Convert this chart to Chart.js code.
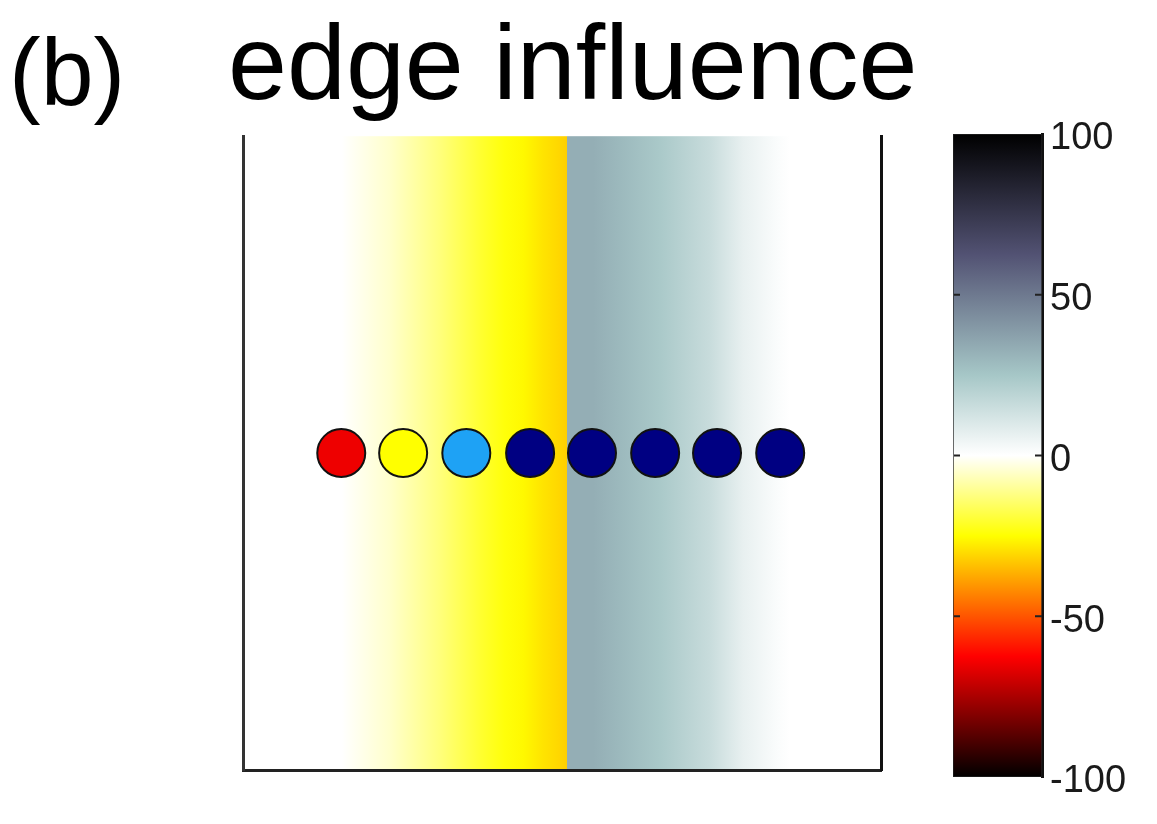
<!DOCTYPE html>
<html lang="en">
<head>
<meta charset="UTF-8">
<title>edge influence</title>
<script src="https://cdn.jsdelivr.net/npm/chart.js"></script>
<style>
  body { margin: 0; background: #fff; }
  #wrap { position: relative; width: 1157px; height: 824px; }
  #main { position: absolute; left: 0; top: 0; }
  #cbar { position: absolute; left: 900px; top: 0; }
  #panel { position: absolute; left: 9px; top: 25px; font: 95px/95px 'Liberation Sans', Arial, sans-serif; color: #000; }
</style>
</head>
<body>
<div id="wrap">
  <canvas id="main" width="1157" height="824"></canvas>
  <canvas id="cbar" width="257" height="824"></canvas>
  <div id="panel">(b)</div>
</div>
<script>
// sensor positions along the strip and their marker colours
const sensorX = [1.54, 2.51, 3.5, 4.5, 5.47, 6.46, 7.43, 8.42];
const sensorY = [0.5, 0.5, 0.5, 0.5, 0.5, 0.5, 0.5, 0.5];
const sensorColors = ['#ee0000', '#ffff00', '#1ea2f5', '#000082', '#000082', '#000082', '#000082', '#000082'];

// edge influence profile across the plate
const fieldX = [0, 1.55, 2.3, 3.1, 3.7, 4.1, 4.4, 4.7, 4.97, 5.08, 5.08, 5.49, 5.91, 6.54, 7.32, 7.84, 8.37, 8.57, 10];
const fieldV = [0, 0, -5, -13, -20, -24, -26, -29, -31, -32, 33, 33, 29.5, 24, 15.5, 6.5, 1.5, 0, 0];

// colour scale (hot below zero, bone above)
const cmapVals = [-100, -62.5, -25, 0, 25, 62.5, 100];
const cmapColors = ['#000000', '#ff0000', '#ffff00', '#ffffff', '#a6c7c7', '#525273', '#000000'];
const cbarTicks = [-100, -50, 0, 50, 100];

function hexRgb(h) {
  return [1, 3, 5].map(i => parseInt(h.slice(i, i + 2), 16));
}

function valueToColor(v) {
  for (let i = 0; i < cmapVals.length - 1; i++) {
    if (v <= cmapVals[i + 1]) {
      const t = Math.max(0, (v - cmapVals[i]) / (cmapVals[i + 1] - cmapVals[i]));
      const a = hexRgb(cmapColors[i]), b = hexRgb(cmapColors[i + 1]);
      const c = a.map((ch, k) => Math.round(ch + (b[k] - ch) * t));
      return 'rgb(' + c.join(',') + ')';
    }
  }
  return cmapColors[cmapColors.length - 1];
}

// shading behind the markers
const fieldShade = {
  id: 'fieldShade',
  beforeDraw(chart) {
    const {ctx, chartArea: a, scales: {x}} = chart;
    const g = ctx.createLinearGradient(a.left, 0, a.right, 0);
    fieldX.forEach((fx, i) => {
      const off = (x.getPixelForValue(fx) - a.left) / (a.right - a.left);
      g.addColorStop(Math.min(1, Math.max(0, off)), valueToColor(fieldV[i]));
    });
    ctx.save();
    ctx.fillStyle = g;
    ctx.fillRect(a.left, a.top, a.right - a.left, a.bottom - a.top);
    ctx.restore();
  }
};

const noAxis = { display: false, drawTicks: false };

new Chart(document.getElementById('main'), {
  type: 'scatter',
  data: {
    datasets: [{
      data: sensorX.map((x, i) => ({x: x, y: sensorY[i]})),
      backgroundColor: sensorColors,
      borderColor: '#111',
      borderWidth: 2,
      pointRadius: 24,
      pointHoverRadius: 24
    }]
  },
  options: {
    responsive: false,
    animation: false,
    layout: { padding: { left: 228, right: 0, top: 0, bottom: 54 } },
    plugins: {
      legend: { display: false },
      tooltip: { enabled: false },
      title: {
        display: true,
        text: 'edge influence',
        align: 'start',
        color: '#000',
        font: { family: 'Liberation Sans', size: 106, weight: 'normal', lineHeight: 1.2 },
        padding: { top: 6, bottom: 3 }
      }
    },
    scales: {
      x: {
        type: 'linear', min: 0, max: 10,
        ticks: { display: false }, grid: noAxis,
        border: { color: '#222', width: 3 },
        afterFit: s => { s.height = 0; }
      },
      y: {
        min: 0, max: 1,
        ticks: { display: false }, grid: noAxis,
        border: { color: '#333', width: 3 },
        afterFit: s => { s.width = 15; }
      },
      y2: {
        position: 'right', min: 0, max: 1,
        ticks: { display: false }, grid: noAxis,
        border: { color: '#111', width: 3 },
        afterFit: s => { s.width = 276; }
      }
    }
  },
  plugins: [fieldShade]
});

// colour bar
function cbarGradient(chart) {
  const a = chart.chartArea, y = chart.scales.y;
  if (!a || !y) return '#888';
  const g = chart.ctx.createLinearGradient(0, a.bottom, 0, a.top);
  cmapVals.forEach((v, i) => {
    g.addColorStop((y.getPixelForValue(v) - a.bottom) / (a.top - a.bottom), cmapColors[i]);
  });
  return g;
}

const cbarTickMarks = {
  id: 'cbarTickMarks',
  afterDatasetsDraw(chart) {
    const {ctx, chartArea: a, scales: {y}} = chart;
    ctx.save();
    ctx.strokeStyle = '#222';
    ctx.lineWidth = 2;
    cbarTicks.forEach(v => {
      if (v === y.min || v === y.max) return;
      const py = y.getPixelForValue(v);
      ctx.beginPath();
      ctx.moveTo(a.left + 1, py); ctx.lineTo(a.left + 7, py);
      ctx.moveTo(a.right - 7, py); ctx.lineTo(a.right, py);
      ctx.stroke();
    });
    ctx.restore();
  }
};

new Chart(document.getElementById('cbar'), {
  type: 'bar',
  data: {
    labels: ['influence'],
    datasets: [{
      data: [[-100, 100]],
      backgroundColor: c => cbarGradient(c.chart),
      borderColor: '#222',
      borderWidth: 1,
      borderSkipped: false,
      barPercentage: 1,
      categoryPercentage: 1
    }]
  },
  options: {
    responsive: false,
    animation: false,
    layout: { padding: { left: 53, top: 134, bottom: 47, right: 0 } },
    plugins: { legend: { display: false }, tooltip: { enabled: false } },
    scales: {
      x: { display: false },
      y: {
        position: 'right', min: -100, max: 100,
        grid: noAxis,
        border: { display: true, color: '#111', width: 3 },
        afterFit: s => { s.width = 115; },
        ticks: {
          stepSize: 50, padding: 8, labelOffset: 5, color: '#1a1a1a',
          font: { family: 'Liberation Sans', size: 38 }
        }
      }
    }
  },
  plugins: [cbarTickMarks]
});
</script>
</body>
</html>
